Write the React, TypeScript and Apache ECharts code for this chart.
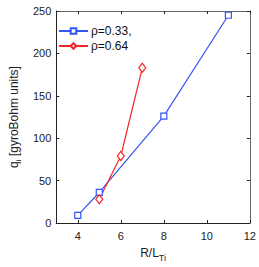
import React, { useEffect, useRef } from "react";
import * as echarts from "echarts";

const blueX = [4, 5, 8, 11];
const blueY = [9, 36, 126, 245];
const redX = [5, 6, 7];
const redY = [28, 79, 183];
const seriesNames = ["ρ=0.33,", "ρ=0.64"];
const xTicks = [4, 6, 8, 10, 12];
const yTicks = [0, 50, 100, 150, 200, 250];

export default function App() {
  const ref = useRef<HTMLDivElement>(null);
  useEffect(() => {
    if (!ref.current) return;
    const chart = echarts.init(ref.current, undefined, { renderer: "svg" });
    const font = "'Liberation Sans', Arial, sans-serif";
    const axisLine = { show: true, onZero: false, lineStyle: { color: "#222", width: 1 } };
    const frameLine = { show: true, onZero: false, lineStyle: { color: "#666", width: 1 } };
    const tick = { show: true, inside: true, length: 3, lineStyle: { color: "#222" } };
    chart.setOption({
      animation: false,
      backgroundColor: "#fff",
      grid: { left: 42.5, right: 6, top: 11, bottom: 31, containLabel: false },
      legend: {
        orient: "vertical",
        left: 53,
        top: 20,
        itemWidth: 29,
        itemHeight: 7,
        itemGap: 3,
        data: seriesNames,
        textStyle: { fontFamily: font, fontSize: 12, color: "#111", padding: [0, 0, 0, -2] },
      },
      xAxis: [
        {
          type: "value",
          min: 3,
          max: 12,
          interval: 1,
          position: "bottom",
          axisLine,
          axisTick: { ...tick, customValues: xTicks },
          axisLabel: {
            customValues: xTicks,
            fontFamily: font,
            fontSize: 11,
            color: "#222",
            margin: 7,
          },
          splitLine: { show: false },
          name: "{a|R/L}{b|Ti}",
          nameLocation: "middle",
          nameGap: 20,
          nameTextStyle: {
            rich: {
              a: { fontFamily: font, fontSize: 12, color: "#222" },
              b: { fontFamily: font, fontSize: 9, color: "#222", padding: [10, 0, 0, 0] },
            },
          },
        },
        {
          type: "value",
          min: 3,
          max: 12,
          interval: 1,
          position: "top",
          axisLine: frameLine,
          axisTick: { ...tick, customValues: xTicks },
          axisLabel: { show: false },
          splitLine: { show: false },
        },
      ],
      yAxis: [
        {
          type: "value",
          min: 0,
          max: 250,
          interval: 50,
          position: "left",
          axisLine,
          axisTick: { ...tick, customValues: yTicks },
          axisLabel: { customValues: yTicks, fontFamily: font, fontSize: 11, color: "#222", margin: 5 },
          splitLine: { show: false },
          name: "{a|q}{b|i}{a| [gyroBohm units]}",
          nameLocation: "middle",
          nameGap: 30,
          nameRotate: 90,
          nameTextStyle: {
            rich: {
              a: { fontFamily: font, fontSize: 12, color: "#222" },
              b: { fontFamily: font, fontSize: 8, color: "#222", padding: [8, 0, 0, 0] },
            },
          },
        },
        {
          type: "value",
          min: 0,
          max: 250,
          interval: 50,
          position: "right",
          axisLine: frameLine,
          axisTick: tick,
          axisLabel: { show: false },
          splitLine: { show: false },
        },
      ],
      series: [
        {
          name: seriesNames[0],
          type: "line",
          data: blueX.map((x, i) => [x, blueY[i]]),
          symbol: "rect",
          symbolSize: 6,
          showAllSymbol: true,
          lineStyle: { color: "#3355f5", width: 1.2 },
          itemStyle: { color: "#fff", borderColor: "#3355f5", borderWidth: 1.2 },
          color: "#3355f5",
        },
        {
          name: seriesNames[1],
          type: "line",
          data: redX.map((x, i) => [x, redY[i]]),
          symbol: "diamond",
          symbolSize: [7, 9],
          lineStyle: { color: "#f52525", width: 1.2 },
          itemStyle: { color: "#fff", borderColor: "#f52525", borderWidth: 1.2 },
          color: "#f52525",
        },
      ],
    });
    return () => chart.dispose();
  }, []);
  return <div ref={ref} style={{ width: 259, height: 267, position: "absolute", left: 0, top: 0 }} />;
}
